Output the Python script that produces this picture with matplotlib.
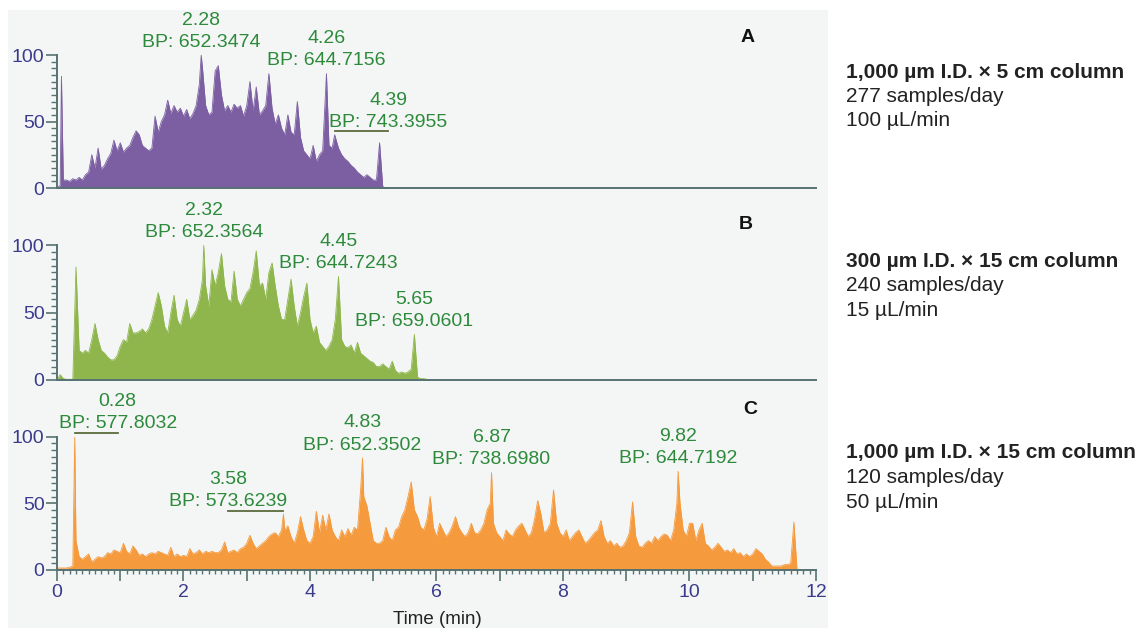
import numpy as np
import matplotlib
matplotlib.use('Agg')
import matplotlib.pyplot as plt
from matplotlib.patches import Rectangle
from matplotlib.ticker import MultipleLocator, FuncFormatter

plt.rcParams['font.family'] = ['Liberation Sans', 'DejaVu Sans']

# base peak intensity (%) sampled every 0.05 min, starting at 0 min
STEP = 0.05

a_heights = [0, 2, 6, 6, 5, 7, 6, 8, 6, 10, 12, 25, 15, 30, 14, 17, 22, 26, 36, 28,
             34, 27, 30, 32, 38, 43, 40, 32, 30, 28, 30, 54, 42, 50, 55, 66, 56, 62, 57, 60,
             54, 59, 52, 56, 62, 78, 90, 62, 55, 57, 88, 92, 70, 58, 62, 57, 63, 60, 62, 54,
             62, 80, 58, 76, 55, 58, 62, 86, 60, 48, 55, 45, 40, 55, 42, 40, 65, 38, 28, 25,
             22, 32, 20, 25, 28, 35, 32, 30, 36, 30, 25, 22, 20, 17, 15, 12, 10, 8, 10, 8,
             6, 6, 34, 1, 0, 0]

b_heights = [0, 4, 1, 0.5, 0.5, 0.5, 84, 22, 20, 22, 20, 30, 42, 30, 22, 20, 17, 15, 15, 18,
             25, 30, 28, 42, 35, 35, 36, 38, 35, 38, 45, 55, 65, 55, 40, 35, 50, 63, 45, 40,
             50, 60, 45, 48, 52, 60, 75, 70, 55, 82, 70, 80, 94, 70, 60, 58, 81, 60, 55, 60,
             65, 68, 80, 96, 70, 72, 60, 80, 87, 70, 55, 45, 45, 60, 75, 55, 40, 50, 62, 72,
             45, 35, 40, 28, 25, 22, 25, 30, 45, 60, 30, 25, 24, 26, 20, 28, 20, 18, 16, 14,
             13, 10, 10, 12, 10, 8, 14, 7, 5, 6, 5, 6, 8, 8, 2, 1, 1, 0.5, 0, 0]

c_heights = [1.5, 1.5, 1.5, 1.5, 2, 3, 22, 10, 8, 10, 12, 6, 8, 10, 9, 10, 13, 12, 15, 14,
             13, 20, 14, 12, 18, 15, 11, 12, 10, 12, 13, 12, 14, 13, 12, 11, 17, 10, 12, 10,
             11, 10, 16, 12, 13, 15, 12, 14, 13, 14, 13, 13, 15, 21, 13, 14, 15, 13, 16, 17,
             20, 26, 20, 16, 18, 20, 22, 25, 27, 28, 25, 30, 30, 33, 25, 20, 28, 40, 30, 22,
             20, 25, 44, 28, 41, 30, 42, 30, 25, 22, 30, 25, 31, 26, 32, 30, 60, 55, 48, 35,
             22, 20, 20, 22, 32, 25, 22, 30, 32, 40, 45, 55, 66, 45, 40, 32, 30, 38, 55, 32,
             25, 35, 30, 25, 28, 33, 40, 32, 28, 25, 28, 35, 28, 27, 30, 35, 45, 50, 35, 28,
             25, 22, 30, 27, 25, 30, 33, 35, 30, 25, 28, 38, 52, 42, 28, 30, 35, 60, 35, 28,
             25, 30, 22, 25, 28, 30, 25, 20, 22, 25, 28, 30, 37, 25, 20, 22, 18, 20, 17, 18,
             22, 28, 51, 25, 18, 17, 20, 22, 20, 25, 22, 25, 27, 26, 22, 30, 50, 50, 30, 25,
             35, 35, 22, 30, 35, 20, 18, 15, 17, 20, 17, 14, 15, 13, 16, 12, 13, 10, 12, 10,
             12, 16, 14, 12, 8, 6, 3, 3, 3, 3, 4, 4, 5, 36, 0]

# sharp spikes: (retention time, intensity)
a_spikes = [(0.07, 84)]
b_spikes = []
c_spikes = []

# labelled base peaks: (retention time, intensity, base peak m/z)
a_labels = [(2.28, 100, '652.3474'), (4.26, 86, '644.7156'), (4.39, 40, '743.3955')]
b_labels = [(2.32, 100, '652.3564'), (4.45, 77, '644.7243'), (5.65, 34, '659.0601')]
c_labels = [(0.28, 100, '577.8032'), (3.58, 42, '573.6239'), (4.83, 84, '652.3502'),
            (6.87, 73, '738.6980'), (9.82, 74, '644.7192')]

panel_letters = ['A', 'B', 'C']
column_info = [
    ['1,000 µm I.D. × 5 cm column', '277 samples/day', '100 µL/min'],
    ['300 µm I.D. × 15 cm column', '240 samples/day', '15 µL/min'],
    ['1,000 µm I.D. × 15 cm column', '120 samples/day', '50 µL/min'],
]

fill_colors = ['#7c5fa2', '#8fb64d', '#f59a3d']
label_green = '#2d8a3a'
lead_color = '#5c6b3c'
axis_color = '#577272'
tick_blue = '#3b3b8c'

W, H = 1141, 630


def trace(heights, spikes):
    t = np.arange(len(heights)) * STEP
    h = np.array(heights, dtype=float)
    if spikes:
        st = np.array([s[0] for s in spikes])
        sh = np.array([s[1] for s in spikes], dtype=float)
        keep = np.abs(t[:, None] - st[None, :]).min(axis=1) > 0.011
        t = np.concatenate([t[keep], st])
        h = np.concatenate([h[keep], sh])
    order = np.argsort(t)
    return t[order], h[order]


def px_axes(y0, y100):
    return fig.add_axes([57 / W, 1 - y0 / H, (816 - 57) / W, (y0 - y100) / H])


fig = plt.figure(figsize=(W / 100, H / 100), dpi=100)
# light grey panel behind the chromatograms
fig.add_artist(Rectangle((8 / W, 2 / H), 820 / W, 618 / H, transform=fig.transFigure,
                         facecolor='#f4f6f6', edgecolor='none', zorder=-5))

axes = [px_axes(188, 55), px_axes(380, 245.5), px_axes(570, 436.5)]
heights = [a_heights, b_heights, c_heights]
spikes = [a_spikes, b_spikes, c_spikes]
labels = [a_labels, b_labels, c_labels]
# horizontal leader offsets (min) for labels set to one side of the peak
leads = [{4.39: 0.85}, {}, {0.28: 0.68, 3.58: -0.88}]

for i, ax in enumerate(axes):
    ax.set_facecolor('none')
    all_peaks = spikes[i] + [(p[0], p[1]) for p in labels[i]]
    t, h = trace(heights[i], all_peaks)
    ax.fill_between(t, 0, h, color=fill_colors[i], lw=0)
    ax.plot(t, h, color=fill_colors[i], lw=0.6)

    ax.set_xlim(0, 12)
    ax.set_ylim(0, 100)
    for side in ['top', 'right']:
        ax.spines[side].set_visible(False)
    for side in ['left', 'bottom']:
        ax.spines[side].set_color(axis_color)
        ax.spines[side].set_linewidth(1.4)
    ax.set_yticks([0, 50, 100])
    ax.yaxis.set_minor_locator(MultipleLocator(5))
    ax.tick_params(axis='y', which='major', length=8, width=1.2, color=axis_color,
                   labelcolor=tick_blue, labelsize=14, pad=1)
    ax.tick_params(axis='y', which='minor', length=4, width=1.0, color=axis_color)

    for rt, inten, bp in labels[i]:
        lead = leads[i].get(rt, 0.0)
        if lead:
            ax.plot([rt, rt + lead], [inten + 2.5, inten + 2.5], color=lead_color, lw=1.3,
                    clip_on=False)
            dy = 0.5
        else:
            dy = 3
        ax.annotate(f'{rt:.2f}\nBP: {bp}', xy=(rt + lead, inten + (2.5 if lead else 0)),
                    xytext=(0, dy), textcoords='offset points', ha='center', va='bottom',
                    color=label_green, fontsize=14, linespacing=1.4, annotation_clip=False)

    if i < 2:
        ax.set_xticks([])
    else:
        ax.xaxis.set_major_locator(MultipleLocator(1))
        ax.xaxis.set_minor_locator(MultipleLocator(0.1))
        ax.xaxis.set_major_formatter(FuncFormatter(lambda v, p: f'{v:.0f}' if round(v) % 2 == 0 else ''))
        ax.tick_params(axis='x', which='major', length=8, width=1.2, color=axis_color,
                       labelcolor=tick_blue, labelsize=14, pad=2)
        ax.tick_params(axis='x', which='minor', length=3, width=1.0, color=axis_color)

fig.text(437 / W, 1 - 620 / H, 'Time (min)', ha='center', va='center', fontsize=13.5, color='#222222')

for letter, (x, y) in zip(panel_letters, [(748, 38), (746, 224), (750, 410)]):
    fig.text(x / W, 1 - y / H, letter, ha='center', va='center', fontsize=14,
             fontweight='bold', color='#111111')

for block, y0 in zip(column_info, [72, 261, 453]):
    for j, line in enumerate(block):
        fig.text(846 / W, 1 - (y0 + j * 24.5) / H, line, ha='left', va='center', fontsize=15,
                 fontweight='bold' if j == 0 else 'normal', color='#222222')

fig.savefig('out.png', dpi=100, facecolor='white')
